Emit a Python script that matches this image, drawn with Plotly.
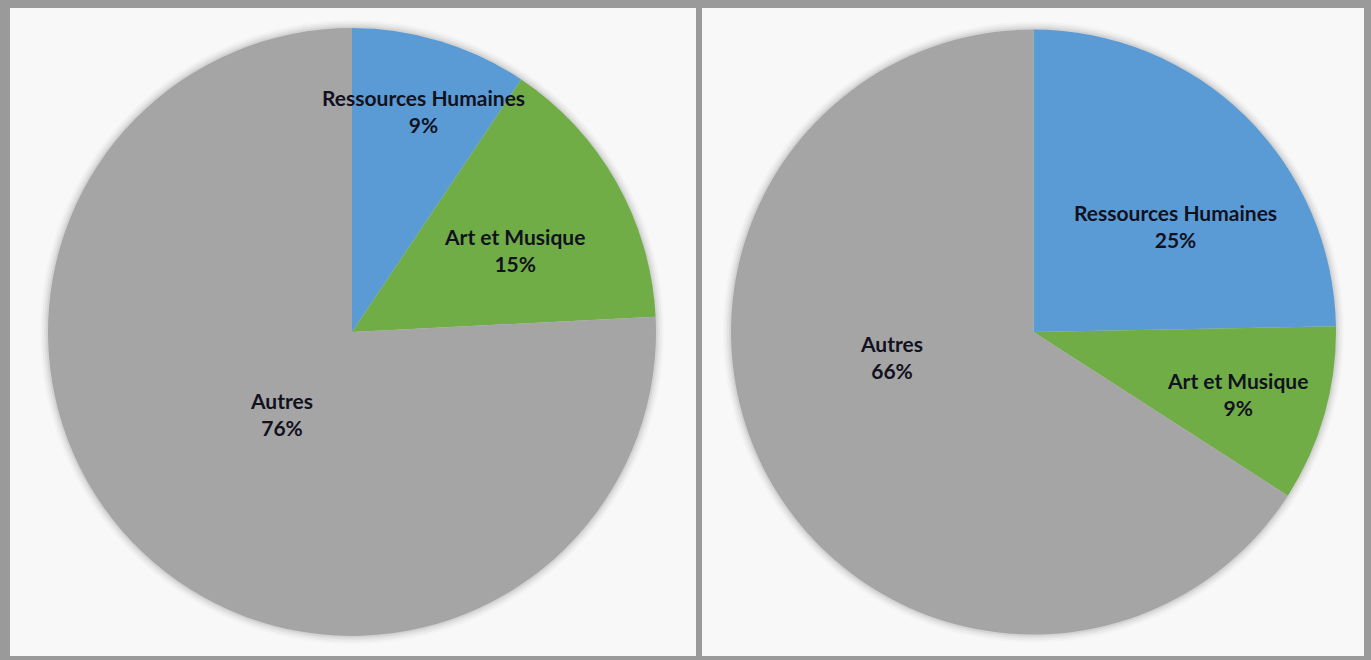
import math
import plotly.graph_objects as go

categories = ["Ressources Humaines", "Art et Musique", "Autres"]
left_values = [9.4, 14.8, 75.8]
right_values = [24.7, 9.4, 65.9]
colors = ["#5B9BD5", "#70AD47", "#A5A5A5"]

# label placement (style): fraction of slice angle, fraction of radius
left_label_ang = [0.53, 0.55, 0.49]
left_label_rad = [0.765, 0.60, 0.357]
right_label_ang = [0.60, 0.53, 0.578]
right_label_rad = [0.585, 0.703, 0.478]

W, H = 1371, 660
FONT = dict(family="Lato", size=21, color="#12121f")

pies = [
    (left_values, (352, 332, 304), left_label_ang, left_label_rad),
    (right_values, (1033.5, 332, 302.5), right_label_ang, right_label_rad),
]

fig = go.Figure()
annotations = []
shapes = []

# panels
for x0, x1 in [(10, 696), (702, 1364)]:
    shapes.append(dict(type="rect", xref="paper", yref="paper", layer="below",
                       x0=x0 / W, x1=x1 / W, y0=(H - 656) / H, y1=(H - 8) / H,
                       fillcolor="#f8f8f8", line=dict(width=0)))

for vals, (cx, cy, r), fang, frad in pies:
    fig.add_trace(go.Pie(
        labels=categories, values=vals, sort=False, direction="clockwise",
        rotation=0,
        domain=dict(x=[(cx - r) / W, (cx + r) / W], y=[(H - cy - r) / H, (H - cy + r) / H]),
        marker=dict(colors=colors, line=dict(width=0)),
        textinfo="none", hoverinfo="label+percent", showlegend=False,
    ))
    # soft shadow
    for k, a in [(8, 0.02), (6, 0.03), (4, 0.04), (2, 0.06)]:
        rr = r + k
        shapes.append(dict(type="circle", xref="paper", yref="paper", layer="below",
                           x0=(cx - rr) / W, x1=(cx + rr) / W,
                           y0=(H - cy - rr) / H, y1=(H - cy + rr) / H,
                           fillcolor=f"rgba(0,0,0,{a})", line=dict(width=0)))
    total = sum(vals)
    start = 0.0
    for lab, v, fa, fr in zip(categories, vals, fang, frad):
        span = v / total * 360
        th = math.radians(start + fa * span)
        px = cx + fr * r * math.sin(th)
        py = cy - fr * r * math.cos(th)
        pct = round(v / total * 100)
        annotations.append(dict(
            x=px / W, y=(H - py) / H, xref="paper", yref="paper",
            text=f"<b>{lab}</b><br><b>{pct}%</b>", showarrow=False,
            font=FONT, align="center", xanchor="center", yanchor="middle"))
        start += span

fig.update_layout(width=W, height=H, margin=dict(l=0, r=0, t=0, b=0),
                  paper_bgcolor="#9a9a9a", shapes=shapes, annotations=annotations)
fig.write_html("out.html", config={"displayModeBar": False},
               post_script="document.body.style.margin='0px';")
